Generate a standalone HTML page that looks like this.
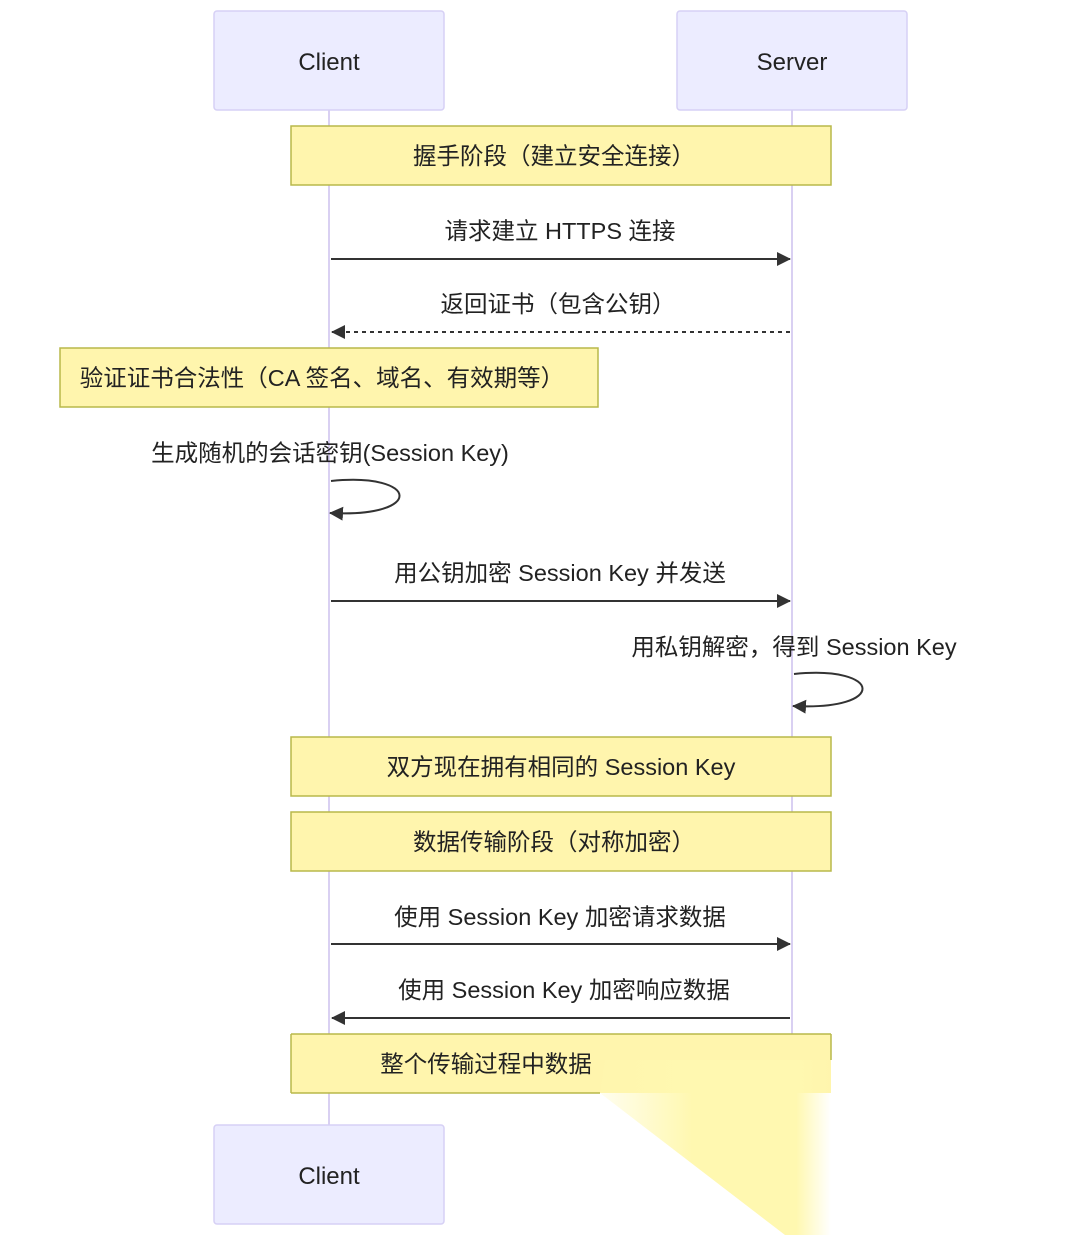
<!DOCTYPE html>
<html><head><meta charset="utf-8"><style>
html,body{margin:0;padding:0;background:#fff;}
svg text{font-family:"Liberation Sans","Noto Sans CJK SC",sans-serif;fill:#222;}
</style></head><body>
<svg width="1080" height="1235" viewBox="0 0 1080 1235" xmlns="http://www.w3.org/2000/svg">
<defs>
<marker id="ah" markerWidth="14" markerHeight="14" refX="13" refY="7" orient="auto" markerUnits="userSpaceOnUse">
<path d="M0,0 L14,7 L0,14 z" fill="#333"/></marker>
<linearGradient id="fade" x1="0" y1="0" x2="1" y2="0">
<stop offset="0" stop-color="#fff8b0" stop-opacity="0.2"/>
<stop offset="0.4" stop-color="#fff8b0" stop-opacity="1"/>
<stop offset="0.85" stop-color="#fff8b0" stop-opacity="1"/>
<stop offset="1" stop-color="#fff8b0" stop-opacity="0"/>
</linearGradient>
</defs>
<line x1="329" y1="110" x2="329" y2="1125" stroke="#d9d0f2" stroke-width="2"/>
<line x1="792" y1="110" x2="792" y2="1034" stroke="#d9d0f2" stroke-width="2"/>
<rect x="214" y="11" width="230" height="99" rx="3" fill="#ececff" stroke="#d6d0f5" stroke-width="1.5"/>
<text x="329" y="70" font-size="24" text-anchor="middle">Client</text>
<rect x="677" y="11" width="230" height="99" rx="3" fill="#ececff" stroke="#d6d0f5" stroke-width="1.5"/>
<text x="792" y="70" font-size="24" text-anchor="middle">Server</text>

<rect x="291" y="126" width="540" height="59" fill="#fff5ad" stroke="#b8b84a" stroke-width="1.5"/>
<text x="554" y="164" font-size="23.5" text-anchor="middle">握手阶段（建立安全连接）</text>

<text x="560" y="239" font-size="23.5" text-anchor="middle">请求建立 HTTPS 连接</text>
<line x1="331" y1="259" x2="790" y2="259" stroke="#333" stroke-width="2" marker-end="url(#ah)"/>

<text x="558" y="312" font-size="23.5" text-anchor="middle">返回证书（包含公钥）</text>
<line x1="790" y1="332" x2="332" y2="332" stroke="#333" stroke-width="2" stroke-dasharray="4,4" marker-end="url(#ah)"/>

<rect x="60" y="348" width="538" height="59" fill="#fff5ad" stroke="#b8b84a" stroke-width="1.5"/>
<text x="322" y="386" font-size="23.5" text-anchor="middle">验证证书合法性（CA 签名、域名、有效期等）</text>

<text x="330" y="461" font-size="23.5" text-anchor="middle">生成随机的会话密钥(Session Key)</text>
<path d="M331,481 C420,472 425,518 330,513" fill="none" stroke="#333" stroke-width="2" marker-end="url(#ah)"/>

<text x="560" y="581" font-size="23.5" text-anchor="middle">用公钥加密 Session Key 并发送</text>
<line x1="331" y1="601" x2="790" y2="601" stroke="#333" stroke-width="2" marker-end="url(#ah)"/>

<text x="794" y="655" font-size="23.5" text-anchor="middle">用私钥解密，得到 Session Key</text>
<path d="M794,674 C883,665 888,711 793,706" fill="none" stroke="#333" stroke-width="2" marker-end="url(#ah)"/>

<rect x="291" y="737" width="540" height="59" fill="#fff5ad" stroke="#b8b84a" stroke-width="1.5"/>
<text x="561" y="775" font-size="23.5" text-anchor="middle">双方现在拥有相同的 Session Key</text>

<rect x="291" y="812" width="540" height="59" fill="#fff5ad" stroke="#b8b84a" stroke-width="1.5"/>
<text x="554" y="850" font-size="23.5" text-anchor="middle">数据传输阶段（对称加密）</text>

<text x="560" y="925" font-size="23.5" text-anchor="middle">使用 Session Key 加密请求数据</text>
<line x1="331" y1="944" x2="790" y2="944" stroke="#333" stroke-width="2" marker-end="url(#ah)"/>

<text x="564" y="998" font-size="23.5" text-anchor="middle">使用 Session Key 加密响应数据</text>
<line x1="790" y1="1018" x2="332" y2="1018" stroke="#333" stroke-width="2" marker-end="url(#ah)"/>

<rect x="291" y="1034" width="540" height="59" fill="#fff5ad" stroke="none"/>
<line x1="291" y1="1034" x2="831" y2="1034" stroke="#b8b84a" stroke-width="1.5"/>
<line x1="291" y1="1034" x2="291" y2="1093" stroke="#b8b84a" stroke-width="1.5"/>
<line x1="291" y1="1093" x2="600" y2="1093" stroke="#b8b84a" stroke-width="1.5"/>
<line x1="831" y1="1034" x2="831" y2="1060" stroke="#b8b84a" stroke-width="1.5"/>
<polygon points="600,1093 605,1060 831,1060 831,1235 785,1235" fill="url(#fade)"/>
<text x="486" y="1072" font-size="23.5" text-anchor="middle">整个传输过程中数据</text>

<rect x="214" y="1125" width="230" height="99" rx="3" fill="#ececff" stroke="#d6d0f5" stroke-width="1.5"/>
<text x="329" y="1184" font-size="24" text-anchor="middle">Client</text>
</svg>
</body></html>
